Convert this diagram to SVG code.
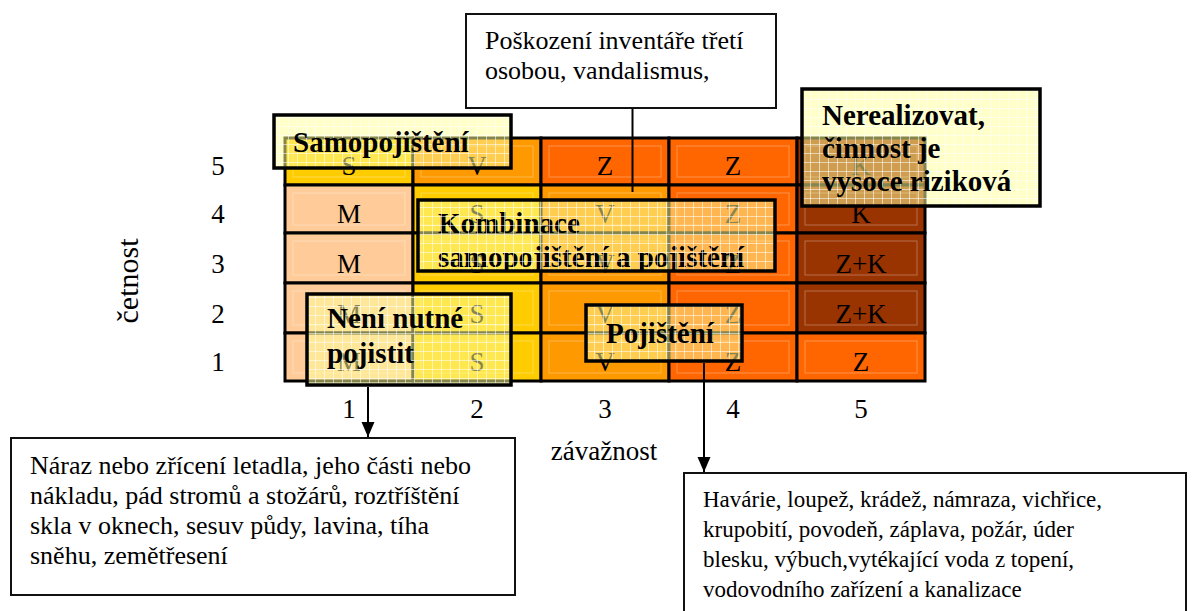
<svg xmlns="http://www.w3.org/2000/svg" width="1197" height="611" viewBox="0 0 1197 611">
<style>
.bg{fill:#fff}
.cl{stroke:#000;stroke-width:3}
.pe{fill:#FFCC99}.ye{fill:#FFCC00}.or{fill:#FF9900}.rd{fill:#FF6600}.br{fill:#993300}
.bev{fill:none;stroke:#fff;stroke-opacity:0.3;stroke-width:1}
.lt{font-family:"Liberation Serif","Times New Roman",serif;font-size:27px;text-anchor:middle;fill:#000}
.ax{font-family:"Liberation Serif","Times New Roman",serif;font-size:27px;fill:#000}
.ovf{fill:#FFFF99;fill-opacity:0.52}
.ovm{fill:url(#mesh);stroke:#000;stroke-width:3.5}
.ovt{font-family:"Liberation Serif","Times New Roman",serif;font-size:29px;font-weight:bold;fill:#000}
.box{fill:#fff;stroke:#111;stroke-width:2}
.bt{font-family:"Liberation Serif","Times New Roman",serif;font-size:26px;fill:#000}
.bt2{font-family:"Liberation Serif","Times New Roman",serif;font-size:23px;fill:#000}
.conn{fill:none;stroke:#000;stroke-width:2;marker-end:url(#arr)}
</style>
<defs>
<pattern id="mesh" width="9" height="9" patternUnits="userSpaceOnUse">
<path d="M0 0.5H9M0.5 0V9" stroke="#fff" stroke-opacity="0.55" stroke-width="1"/>
</pattern>
<marker id="arr" markerUnits="userSpaceOnUse" markerWidth="16" markerHeight="14" viewBox="0 -7 16 14" refX="15" refY="0" orient="auto">
<path d="M0,-6.5 L15,0 L0,6.5 z" fill="#000"/>
</marker>
<clipPath id="kclip"><rect x="418" y="200" width="357" height="70"/></clipPath>
</defs>
<rect class="bg" x="0" y="0" width="1197" height="611"/>

<g id="axes">
<text class="ax" x="218" y="175" text-anchor="middle">5</text>
<text class="ax" x="218" y="223" text-anchor="middle">4</text>
<text class="ax" x="218" y="273" text-anchor="middle">3</text>
<text class="ax" x="218" y="323" text-anchor="middle">2</text>
<text class="ax" x="218" y="371" text-anchor="middle">1</text>
<text class="ax" x="349" y="418" text-anchor="middle">1</text>
<text class="ax" x="477" y="418" text-anchor="middle">2</text>
<text class="ax" x="605" y="418" text-anchor="middle">3</text>
<text class="ax" x="733" y="418" text-anchor="middle">4</text>
<text class="ax" x="861" y="418" text-anchor="middle">5</text>
<text class="ax" x="0" y="0" text-anchor="middle" transform="translate(138,281) rotate(-90)" style="font-size:30px">četnost</text>
<text class="ax" x="604" y="460" text-anchor="middle">závažnost</text>
</g>

<g id="grid">
<g id="r5c1"><rect class="cl ye" x="285" y="138" width="128" height="47"/><rect class="bev" x="293" y="146" width="112" height="31"/><text class="lt" x="349" y="175">S</text></g>
<g id="r5c2"><rect class="cl or" x="413" y="138" width="128" height="47"/><rect class="bev" x="421" y="146" width="112" height="31"/><text class="lt" x="477" y="175">V</text></g>
<g id="r5c3"><rect class="cl rd" x="541" y="138" width="128" height="47"/><rect class="bev" x="549" y="146" width="112" height="31"/><text class="lt" x="605" y="175">Z</text></g>
<g id="r5c4"><rect class="cl rd" x="669" y="138" width="128" height="47"/><rect class="bev" x="677" y="146" width="112" height="31"/><text class="lt" x="733" y="175">Z</text></g>
<g id="r5c5"><rect class="cl br" x="797" y="138" width="128" height="47"/><rect class="bev" x="805" y="146" width="112" height="31"/><text class="lt" x="861" y="175">K</text></g>

<g id="r4c1"><rect class="cl pe" x="285" y="185" width="128" height="48"/><rect class="bev" x="293" y="193" width="112" height="32"/><text class="lt" x="349" y="223">M</text></g>
<g id="r4c2"><rect class="cl ye" x="413" y="185" width="128" height="48"/><rect class="bev" x="421" y="193" width="112" height="32"/><text class="lt" x="477" y="223">S</text></g>
<g id="r4c3"><rect class="cl or" x="541" y="185" width="128" height="48"/><rect class="bev" x="549" y="193" width="112" height="32"/><text class="lt" x="605" y="223">V</text></g>
<g id="r4c4"><rect class="cl rd" x="669" y="185" width="128" height="48"/><rect class="bev" x="677" y="193" width="112" height="32"/><text class="lt" x="733" y="223">Z</text></g>
<g id="r4c5"><rect class="cl br" x="797" y="185" width="128" height="48"/><rect class="bev" x="805" y="193" width="112" height="32"/><text class="lt" x="861" y="223">K</text></g>

<g id="r3c1"><rect class="cl pe" x="285" y="233" width="128" height="50"/><rect class="bev" x="293" y="241" width="112" height="34"/><text class="lt" x="349" y="273">M</text></g>
<g id="r3c2"><rect class="cl ye" x="413" y="233" width="128" height="50"/><rect class="bev" x="421" y="241" width="112" height="34"/><text class="lt" x="477" y="273">S</text></g>
<g id="r3c3"><rect class="cl or" x="541" y="233" width="128" height="50"/><rect class="bev" x="549" y="241" width="112" height="34"/><text class="lt" x="605" y="273">V</text></g>
<g id="r3c4"><rect class="cl rd" x="669" y="233" width="128" height="50"/><rect class="bev" x="677" y="241" width="112" height="34"/><text class="lt" x="733" y="273">Z</text></g>
<g id="r3c5"><rect class="cl br" x="797" y="233" width="128" height="50"/><rect class="bev" x="805" y="241" width="112" height="34"/><text class="lt" x="861" y="273">Z+K</text></g>

<g id="r2c1"><rect class="cl pe" x="285" y="283" width="128" height="50"/><rect class="bev" x="293" y="291" width="112" height="34"/><text class="lt" x="349" y="323">M</text></g>
<g id="r2c2"><rect class="cl ye" x="413" y="283" width="128" height="50"/><rect class="bev" x="421" y="291" width="112" height="34"/><text class="lt" x="477" y="323">S</text></g>
<g id="r2c3"><rect class="cl or" x="541" y="283" width="128" height="50"/><rect class="bev" x="549" y="291" width="112" height="34"/><text class="lt" x="605" y="323">V</text></g>
<g id="r2c4"><rect class="cl rd" x="669" y="283" width="128" height="50"/><rect class="bev" x="677" y="291" width="112" height="34"/><text class="lt" x="733" y="323">Z</text></g>
<g id="r2c5"><rect class="cl br" x="797" y="283" width="128" height="50"/><rect class="bev" x="805" y="291" width="112" height="34"/><text class="lt" x="861" y="323">Z+K</text></g>

<g id="r1c1"><rect class="cl pe" x="285" y="333" width="128" height="48"/><rect class="bev" x="293" y="341" width="112" height="32"/><text class="lt" x="349" y="371">M</text></g>
<g id="r1c2"><rect class="cl ye" x="413" y="333" width="128" height="48"/><rect class="bev" x="421" y="341" width="112" height="32"/><text class="lt" x="477" y="371">S</text></g>
<g id="r1c3"><rect class="cl or" x="541" y="333" width="128" height="48"/><rect class="bev" x="549" y="341" width="112" height="32"/><text class="lt" x="605" y="371">V</text></g>
<g id="r1c4"><rect class="cl rd" x="669" y="333" width="128" height="48"/><rect class="bev" x="677" y="341" width="112" height="32"/><text class="lt" x="733" y="371">Z</text></g>
<g id="r1c5"><rect class="cl rd" x="797" y="333" width="128" height="48"/><rect class="bev" x="805" y="341" width="112" height="32"/><text class="lt" x="861" y="371">Z</text></g>
</g>

<g id="connectors">
<path class="conn" d="M632.5,192 V78"/>
<path class="conn" d="M368,387 V437"/>
<path class="conn" d="M704,363 V472"/>
</g>

<g id="ov-samopojisteni">
<rect class="ovf" x="274" y="115" width="237" height="53"/>
<rect class="ovm" x="274" y="115" width="237" height="53"/>
<text class="ovt" x="293" y="152">Samopojištění</text>
</g>
<g id="ov-kombinace">
<rect class="ovf" x="418" y="200" width="357" height="71"/>
<g clip-path="url(#kclip)">
<text class="ovt" x="438" y="233">Kombinace</text>
<text class="ovt" x="438" y="267">samopojištění a pojištění</text>
</g>
<rect class="ovm" x="418" y="200" width="357" height="71"/>
</g>
<g id="ov-nerealizovat">
<rect class="ovf" x="802" y="89" width="238" height="117"/>
<rect class="ovm" x="802" y="89" width="238" height="117"/>
<text class="ovt" x="822" y="125">Nerealizovat,</text>
<text class="ovt" x="822" y="158">činnost je</text>
<text class="ovt" x="822" y="191">vysoce riziková</text>
</g>
<g id="ov-neni-nutne">
<rect class="ovf" x="307" y="294" width="204" height="91"/>
<rect class="ovm" x="307" y="294" width="204" height="91"/>
<text class="ovt" x="327" y="328">Není nutné</text>
<text class="ovt" x="327" y="363">pojistit</text>
</g>
<g id="ov-pojisteni">
<rect class="ovf" x="586" y="305" width="156" height="56"/>
<rect class="ovm" x="586" y="305" width="156" height="56"/>
<text class="ovt" x="606" y="343">Pojištění</text>
</g>

<g id="box-top">
<rect class="box" x="466" y="14" width="310" height="94"/>
<text class="bt" x="485" y="49">Poškození inventáře třetí</text>
<text class="bt" x="485" y="79">osobou, vandalismus,</text>
</g>
<g id="box-left">
<rect class="box" x="11" y="438" width="504" height="157"/>
<text class="bt" x="30" y="474">Náraz nebo zřícení letadla, jeho části nebo</text>
<text class="bt" x="30" y="504">nákladu, pád stromů a stožárů, roztříštění</text>
<text class="bt" x="30" y="534">skla v oknech, sesuv půdy, lavina, tíha</text>
<text class="bt" x="30" y="564">sněhu, zemětřesení</text>
</g>
<g id="box-right">
<rect class="box" x="684" y="473" width="502" height="150"/>
<text class="bt2" x="703" y="507">Havárie, loupež, krádež, námraza, vichřice,</text>
<text class="bt2" x="703" y="537">krupobití, povodeň, záplava, požár, úder</text>
<text class="bt2" x="703" y="567">blesku, výbuch,vytékající voda z topení,</text>
<text class="bt2" x="703" y="597">vodovodního zařízení a kanalizace</text>
</g>
</svg>
